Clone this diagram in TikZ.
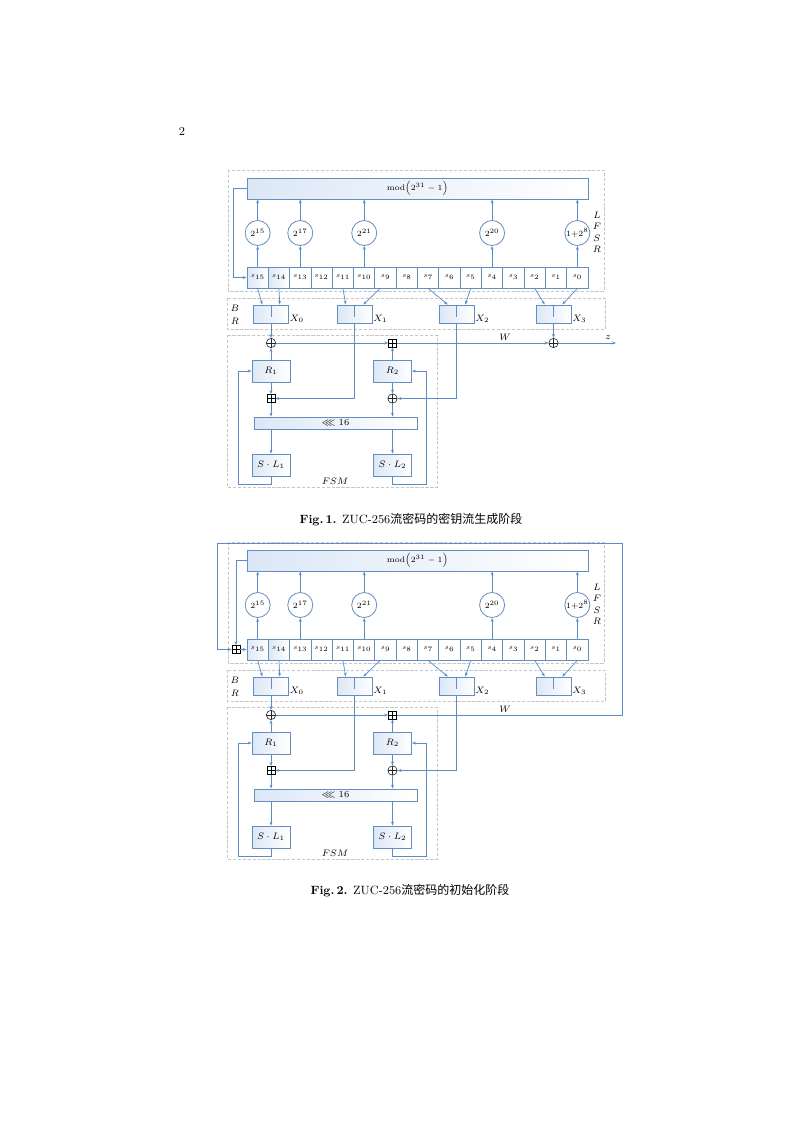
\documentclass[tikz,border=0pt]{standalone}
\usepackage{amsmath,amssymb}
\usepackage{fontspec}
\newfontfamily\cjk{Noto Sans CJK SC}
\usetikzlibrary{arrows.meta,calc}
\definecolor{lc}{RGB}{91,141,196}
\definecolor{bc}{RGB}{100,142,190}
\definecolor{fc}{RGB}{220,231,246}
\tikzset{
 ln/.style={draw=lc, line width=0.55pt},
 arr/.style={ln, -{Stealth[length=3pt,width=2.2pt]}},
 dbox/.style={draw=black!22, line width=0.7pt, dash pattern=on 2.5pt off 1.2pt},
 gbox/.style={draw=bc, line width=0.6pt, left color=fc, right color=white, inner sep=0pt},
 wbox/.style={draw=bc, line width=0.6pt, fill=white, inner sep=0pt},
 cellw/.style={wbox, minimum width=15.98pt, minimum height=15.75pt, font=\fontsize{5}{5}\selectfont},
 cellg/.style={gbox, minimum width=15.98pt, minimum height=15.75pt, font=\fontsize{5}{5}\selectfont},
 circ/.style={circle, draw=bc, line width=0.6pt, fill=white, minimum size=18.75pt, inner sep=0pt, font=\fontsize{6}{6}\selectfont},
 xbox/.style={gbox, minimum width=26.25pt, minimum height=13.5pt},
 rb/.style={gbox, minimum width=28.5pt, minimum height=16.5pt, font=\fontsize{7}{8}\selectfont},
 xorn/.style={circle, draw=black!85, line width=0.45pt, minimum size=7pt, inner sep=0pt,
   path picture={\draw[black!85, line width=0.45pt] (path picture bounding box.north) -- (path picture bounding box.south) (path picture bounding box.west) -- (path picture bounding box.east);}},
 addn/.style={rectangle, draw=black, line width=0.5pt, minimum size=6pt, inner sep=0pt,
   path picture={\draw[black, line width=0.5pt] (path picture bounding box.north) -- (path picture bounding box.south) (path picture bounding box.west) -- (path picture bounding box.east);}},
 lab/.style={inner sep=0.5pt, font=\fontsize{7}{8}\selectfont},
}
\newcommand\zucfig[1]{%
 \draw[dbox] (228,170) rectangle (604,291);
 \draw[dbox] (227,298) rectangle (605,329);
 \draw[dbox] (227,335) rectangle (437,487);
 \node[gbox, minimum width=255.75pt, minimum height=15.75pt, font=\fontsize{6}{7}\selectfont] (#1mod) at (417.5,188.5) {$\mathrm{mod}\!\left(2^{31}-1\right)$};
 \foreach \k/\s/\st in {0/15/cellg,1/14/cellg,2/13/cellw,3/12/cellw,4/11/cellw,5/10/cellw,6/9/cellw,7/8/cellw,8/7/cellw,9/6/cellw,10/5/cellw,11/4/cellw,12/3/cellw,13/2/cellw,14/1/cellw,15/0/cellw}{
   \node[\st] (#1c\s) at ({247+21.3125*(\k+0.5)},277.5) {$s_{\s}$};
 }
 \foreach \k/\s/\t in {0/15/{2^{15}},2/13/{2^{17}},5/10/{2^{21}},11/4/{2^{20}},15/0/{1{+}2^{8}}}{
   \node[circ] (#1k\s) at ({247+21.3125*(\k+0.5)},233) {$\t$};
   \draw[arr] (#1c\s.north) -- (#1k\s.south);
   \draw[arr] (#1k\s.north) -- (#1k\s.north |- #1mod.south);
 }
 \foreach \l/\yy in {L/215,F/226.5,S/238,R/249.5}{\node[lab] at (597,\yy) {$\l$};}
 \node[lab] at (235,308) {$B$};
 \node[lab] at (235,321) {$R$};
 \foreach \i/\xx in {0/271,1/354.5,2/456.5,3/553.5}{
   \node[xbox] (#1x\i) at (\xx,314) {};
   \draw[draw=bc, line width=0.6pt] (#1x\i.north) -- ++(0,12);
   \node[lab, anchor=south west] at (#1x\i.south east) {$X_{\i}$};
 }
 \draw[arr] (#1c15.south) -- ([xshift=-6.56pt]#1x0.north);
 \draw[arr] (#1c14.south) -- ([xshift=6.56pt]#1x0.north);
 \draw[arr] (#1c11.south) -- ([xshift=-6.56pt]#1x1.north);
 \draw[arr] ([xshift=-4pt]#1c9.south) -- ([xshift=6.56pt]#1x1.north);
 \draw[arr] (#1c7.south) -- ([xshift=-6.56pt]#1x2.north);
 \draw[arr] (#1c5.south) -- ([xshift=6.56pt]#1x2.north);
 \draw[arr] (#1c2.south) -- ([xshift=-6.56pt]#1x3.north);
 \draw[arr] (#1c0.south) -- ([xshift=6.56pt]#1x3.north);
 % FSM
 \node[xorn] (#1o1) at (271,343) {};
 \node[addn] (#1a1) at (392.5,343) {};
 \node[rb] (#1r1) at (271,371) {$R_1$};
 \node[rb] (#1r2) at (392.5,371) {$R_2$};
 \node[addn] (#1a2) at (271,398.5) {};
 \node[xorn] (#1o2) at (392.5,398.5) {};
 \node[gbox, minimum width=122.25pt, minimum height=9pt, font=\fontsize{7}{7}\selectfont] (#1sh) at (335.5,423) {$\lll 16$};
 \node[rb] (#1l1) at (271,465) {$S\cdot L_1$};
 \node[rb] (#1l2) at (392.5,465) {$S\cdot L_2$};
 \draw[arr] (#1x0.south) -- (#1o1.north);
 \draw[arr] (#1r1.north) -- (#1o1.south);
 \draw[arr] (#1o1.east) -- (#1a1.west);
 \draw[arr] (#1r2.north) -- (#1a1.south);
 \draw[arr] (#1r1.south) -- (#1a2.north);
 \draw[arr] (#1x1.south) |- (#1a2.east);
 \draw[arr] (#1r2.south) -- (#1o2.north);
 \draw[arr] (#1x2.south) |- (#1o2.east);
 \draw[arr] (#1a2.south) -- (#1a2.south |- #1sh.north);
 \draw[arr] (#1o2.south) -- (#1o2.south |- #1sh.north);
 \draw[arr] (#1l1.north |- #1sh.south) -- (#1l1.north);
 \draw[arr] (#1l2.north |- #1sh.south) -- (#1l2.north);
 \draw[arr] (#1l1.south) -- ++(0,8) -| ([xshift=-9.75pt]#1r1.west) -- (#1r1.west);
 \draw[arr] (#1l2.south) -- ++(0,8) -| ([xshift=10.9pt]#1r2.east) -- (#1r2.east);
 \node[lab] at (335,481) {$FSM$};
 \node[lab] at (505,337) {$W$};
}
\begin{document}
\begin{tikzpicture}[x=0.75pt,y=-0.75pt]
\useasboundingbox (0,0) rectangle (793,1122);
\node[font=\fontsize{9}{10}\selectfont] (pg) at (182,131) {2};
% Figure 1
\begin{scope}
 \zucfig{A}
 \node[xorn] (Aow) at (553.5,343) {};
 \draw[arr] (Ax3.south) -- (Aow.north);
 \draw[arr] (Aa1.east) -- (Aow.west);
 \coordinate (Az) at (616,343);
 \draw[arr] (Aow.east) -- (Az);
 \node[lab] at (608,337) {$z$};
 \draw[arr] (Amod.west) -- ++(-13,0) |- (Ac15.west);
\end{scope}
\node[font=\fontsize{9}{11}\selectfont] (cap1) at (411,520) {\textbf{Fig.\,1.} ZUC-256{\cjk 流密码的密钥流生成阶段}};
% Figure 2
\begin{scope}[shift={(0,372)}]
 \zucfig{B}
 \node[addn] (Ba0) at (236,277.5) {};
 \draw[arr] (Bmod.west) -| (Ba0.north);
 \draw[arr] (Ba0.east) -- (Bc15.west);
 \draw[arr] (Ba1.east) -- (622,343) -- (622,171) -- (217,171) |- (Ba0.west);
\end{scope}
\node[font=\fontsize{9}{11}\selectfont] (cap2) at (410,891) {\textbf{Fig.\,2.} ZUC-256{\cjk 流密码的初始化阶段}};
\end{tikzpicture}
\end{document}
